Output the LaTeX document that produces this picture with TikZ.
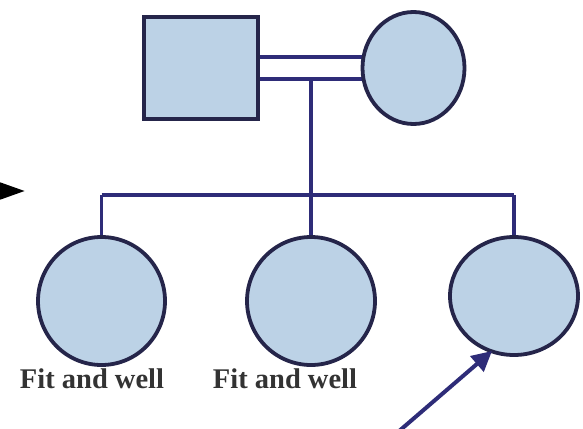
\documentclass[tikz,border=0pt]{standalone}
\usepackage{fontspec}
\setmainfont{Liberation Serif}
\usetikzlibrary{shapes.geometric,backgrounds,arrows.meta}
\definecolor{fillblue}{HTML}{BCD2E6}
\definecolor{outline}{HTML}{25254A}
\definecolor{linkblue}{HTML}{2E2C78}
\definecolor{txt}{HTML}{333333}
\tikzset{
  sqbox/.style={draw=outline, fill=fillblue, line width=3.8pt, rectangle, inner sep=0pt},
  ell/.style={draw=outline, fill=fillblue, line width=3.8pt, ellipse, inner sep=0pt},
  link/.style={draw=linkblue, line width=3.4pt},
  lbl/.style={text=txt, font=\bfseries\fontsize{28.5}{31}\selectfont, inner sep=0pt},
  probarrow/.style={draw=linkblue, line width=4pt, -{Triangle[length=20pt,width=20pt]}}
}
\begin{document}
\begin{tikzpicture}[x=1pt,y=-1pt]
\useasboundingbox (0,0) rectangle (583,428);
% parents
\node[sqbox, minimum width=114pt, minimum height=102pt] (father) at (201,68) {};
\node[ell, minimum width=102pt, minimum height=112pt] (mother) at (413.5,68) {};
% children
\node[ell, minimum width=127pt, minimum height=128pt] (c1) at (101.5,301) {};
\node[ell, minimum width=128pt, minimum height=128pt] (c2) at (311,301) {};
\node[ell, minimum width=128pt, minimum height=118pt] (c3) at (514,296) {};
% labels
\node[lbl] (l1) at (92,379) {Fit and well};
\node[lbl] (l2) at (285,379) {Fit and well};
% coordinates
\coordinate (mid) at (311,79);
\coordinate (sib) at (311,195);
\coordinate (astart) at (398,432);
\coordinate (atip) at (492,351);
\coordinate (ltail) at (-30,191);
\coordinate (ltip) at (25,191);
\begin{pgfonlayer}{background}
\draw[link] ([yshift=11pt]father.east) -- ([yshift=11pt]mother.center);
\draw[link] ([yshift=-11pt]father.east) -- ([yshift=-11pt]mother.center);
\draw[link] (mid) -- (sib);
\draw[link] (c1.center |- sib) -- (c3.center |- sib);
\draw[link] (c1.center |- sib) -- (c1.center);
\draw[link] (c2.center |- sib) -- (c2.center);
\draw[link] (c3.center |- sib) -- (c3.center);
\end{pgfonlayer}
% arrows
\draw[probarrow] (astart) -- (atip);
\draw[line width=4pt, -{Triangle[length=26pt,width=17pt]}] (ltail) -- (ltip);
\end{tikzpicture}
\end{document}
